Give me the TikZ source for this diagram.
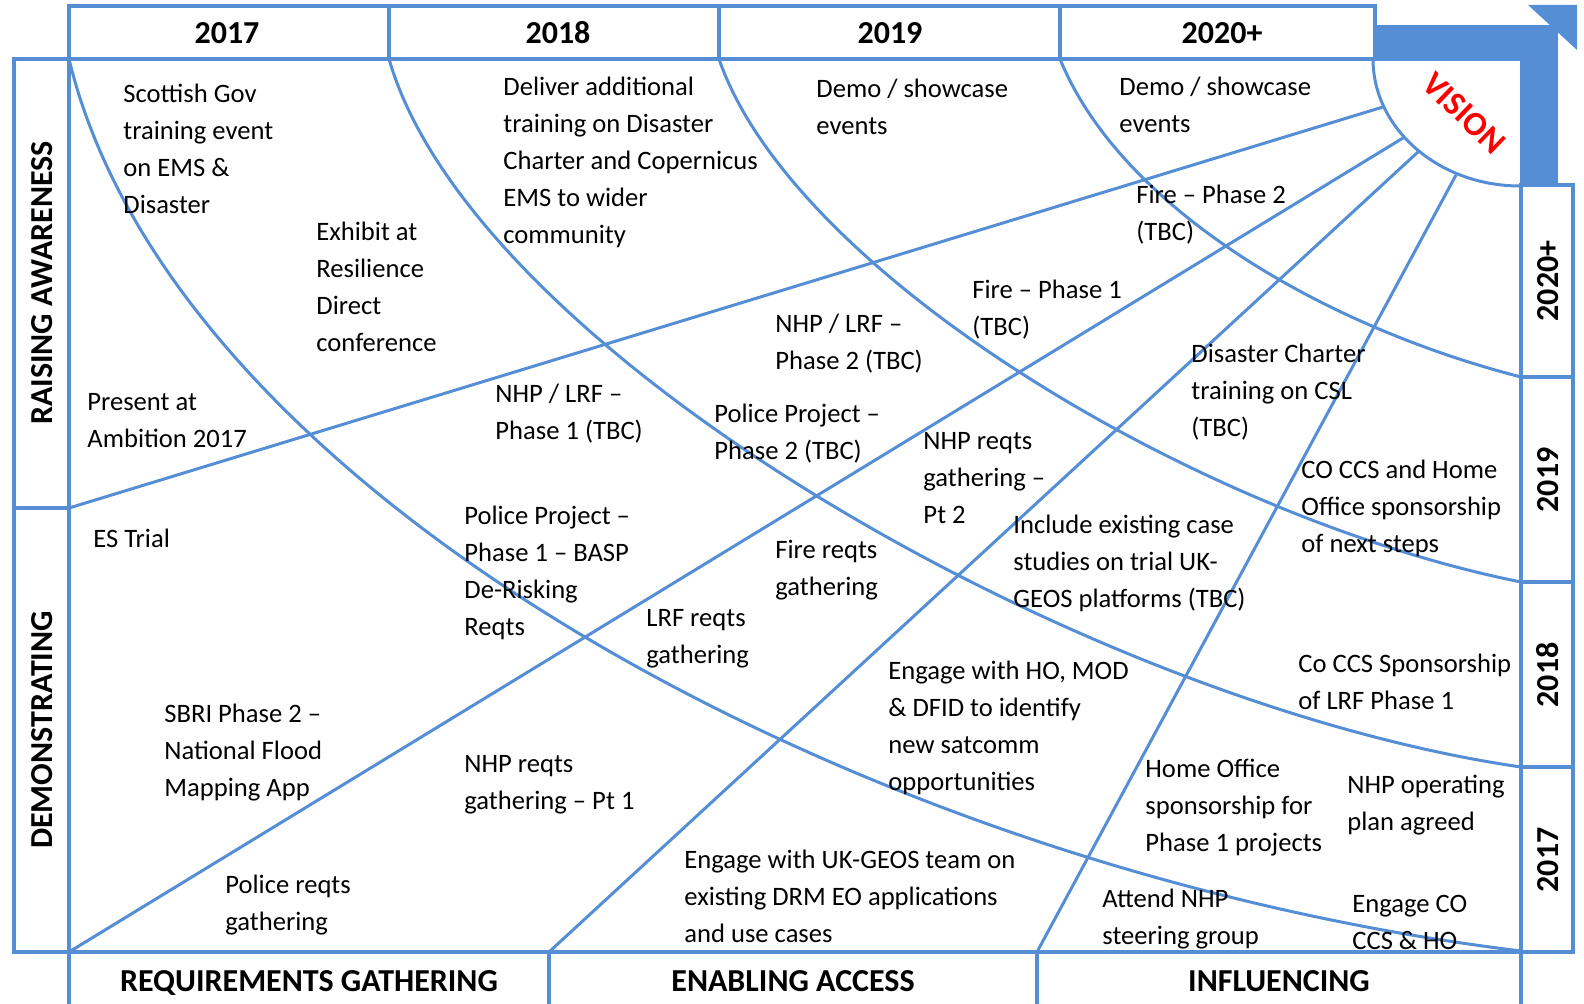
\documentclass[tikz,border=0pt]{standalone}
\usepackage{fontspec}
\setmainfont{Carlito}
\usepackage{tikz}
\usetikzlibrary{positioning}

\definecolor{mapblue}{RGB}{85,142,213}

\begin{document}
\begin{tikzpicture}[
x = 0.5pt, y = -0.5pt,
frame/.style={draw=mapblue, line width=1.6pt},
road/.style={draw=mapblue, line width=1.5pt},
head/.style={inner sep=0pt, text height=11pt, text depth=0pt, font=\fontsize{16}{19}\selectfont\bfseries},
vision/.style={inner sep=0pt, text=red, rotate=-44, font=\fontsize{17}{20}\selectfont\bfseries},
note/.style={anchor=north west, align=left, inner sep=0pt, font=\fontsize{13.3}{18.4}\selectfont}]

\useasboundingbox (0,0) rectangle (1584,1004);

% arrow to the vision
\fill[mapblue] (1375,25) rectangle (1558,61);
\fill[mapblue] (1520,25) rectangle (1558,185);
\fill[mapblue] (1528,5) -- (1577,5) -- (1577,50) -- cycle;

% frame
\draw[frame] (69,6) rectangle (1375,59);
\draw[frame] (389,6) -- (389,59);
\draw[frame] (719,6) -- (719,59);
\draw[frame] (1060,6) -- (1060,59);
\draw[frame] (14,59) rectangle (69,952);
\draw[frame] (14,508) -- (69,508);
\draw[frame] (69,952) -- (69,1004);
\draw[frame] (69,952) -- (1521,952);
\draw[frame] (549,952) -- (549,1004);
\draw[frame] (1037,952) -- (1037,1004);
\draw[frame] (1521,185) rectangle (1573,952);
\draw[frame] (1521,952) -- (1521,1004);
\draw[frame] (1521,377) -- (1573,377);
\draw[frame] (1521,582) -- (1573,582);
\draw[frame] (1521,767) -- (1573,767);

\coordinate (tl) at (69,59);
\coordinate (t18) at (389,59);
\coordinate (t19) at (719,59);
\coordinate (t20) at (1060,59);
\coordinate (r17) at (1521,951);
\coordinate (r18) at (1521,767);
\coordinate (r19) at (1521,582);
\coordinate (r20) at (1521,377);
\coordinate (v0) at (1373,59);
\coordinate (v1) at (1520,186);
\coordinate (l1) at (69,508);
\coordinate (l2) at (69,952);
\coordinate (l3) at (549,952);
\coordinate (l4) at (1037,952);
\coordinate (e1) at (1383,107);
\coordinate (e2) at (1403,138);
\coordinate (e3) at (1418,152);
\coordinate (e4) at (1456,175);

% year arcs
\draw[road] (tl) .. controls (175,499) and (870,872) .. (r17);
\draw[road] (t18) .. controls (474,354) and (1085,704) .. (r18);
\draw[road] (t19) .. controls (793,274) and (1200,518) .. (r19);
\draw[road] (t20) .. controls (1119,204) and (1315,324) .. (r20);
\draw[road] (v0) .. controls (1373,129) and (1439,186) .. (v1);

% theme lines
\draw[road] (l1) -- (e1);
\draw[road] (l2) -- (e2);
\draw[road] (l3) -- (e3);
\draw[road] (l4) -- (e4);

\node[vision] (vis) at (1464,113) {VISION};

\node[head] (h17) at (227,33) {2017};
\node[head] (h18) at (558,33) {2018};
\node[head] (h19) at (890,33) {2019};
\node[head] (h20) at (1222,33) {2020+};

\node[head, rotate=90] (ra) at (41,283) {RAISING AWARENESS};
\node[head, rotate=90] (de) at (41,730) {DEMONSTRATING};

\node[head] (rg) at (309,980) {REQUIREMENTS GATHERING};
\node[head] (ea) at (793,980) {ENABLING ACCESS};
\node[head] (in) at (1279,980) {INFLUENCING};

\node[head, rotate=90] (s20) at (1547,281) {2020+};
\node[head, rotate=90] (s19) at (1547,480) {2019};
\node[head, rotate=90] (s18) at (1547,675) {2018};
\node[head, rotate=90] (s17) at (1547,860) {2017};

\node[note] (n1) at (123,84) {Scottish Gov\\training event\\on EMS \&\\Disaster};
\node[note] (n2) at (316,222) {Exhibit at\\Resilience\\Direct\\conference};
\node[note] (n3) at (87,393) {Present at\\Ambition 2017};
\node[note] (n4) at (503,77) {Deliver additional\\training on Disaster\\Charter and Copernicus\\EMS to wider\\community};
\node[note] (n5) at (816,79) {Demo / showcase\\events};
\node[note] (n6) at (1119,77) {Demo / showcase\\events};
\node[note] (n7) at (1136,185) {Fire – Phase 2\\(TBC)};
\node[note] (n8) at (972,280) {Fire – Phase 1\\(TBC)};
\node[note] (n9) at (775,314) {NHP / LRF –\\Phase 2 (TBC)};
\node[note] (n10) at (495,384) {NHP / LRF –\\Phase 1 (TBC)};
\node[note] (n11) at (714,404) {Police Project –\\Phase 2 (TBC)};
\node[note] (n12) at (923,432) {NHP reqts\\gathering –\\Pt 2};
\node[note] (n13) at (1191,344) {Disaster Charter\\training on CSL\\(TBC)};
\node[note] (n14) at (1301,460) {CO CCS and Home\\Office sponsorship\\of next steps};
\node[note] (n15) at (93,529) {ES Trial};
\node[note] (n16) at (464,506) {Police Project –\\Phase 1 – BASP\\De-Risking\\Reqts};
\node[note] (n17) at (775,540) {Fire reqts\\gathering};
\node[note] (n18) at (646,609) {LRF reqts\\gathering};
\node[note] (n19) at (1013,515) {Include existing case\\studies on trial UK-\\GEOS platforms (TBC)};
\node[note] (n20) at (888,661) {Engage with HO, MOD\\\& DFID to identify\\new satcomm\\opportunities};
\node[note] (n21) at (1298,654) {Co CCS Sponsorship\\of LRF Phase 1};
\node[note] (n22) at (164,704) {SBRI Phase 2 –\\National Flood\\Mapping App};
\node[note] (n23) at (464,755) {NHP reqts\\gathering – Pt 1};
\node[note] (n24) at (1145,759) {Home Office\\sponsorship for\\Phase 1 projects};
\node[note] (n25) at (1347,775) {NHP operating\\plan agreed};
\node[note] (n26) at (225,875) {Police reqts\\gathering};
\node[note] (n27) at (684,850) {Engage with UK-GEOS team on\\existing DRM EO applications\\and use cases};
\node[note] (n28) at (1102,889) {Attend NHP\\steering group};
\node[note] (n29) at (1352,895) {Engage CO\\CCS \& HO};
\end{tikzpicture}
\end{document}
